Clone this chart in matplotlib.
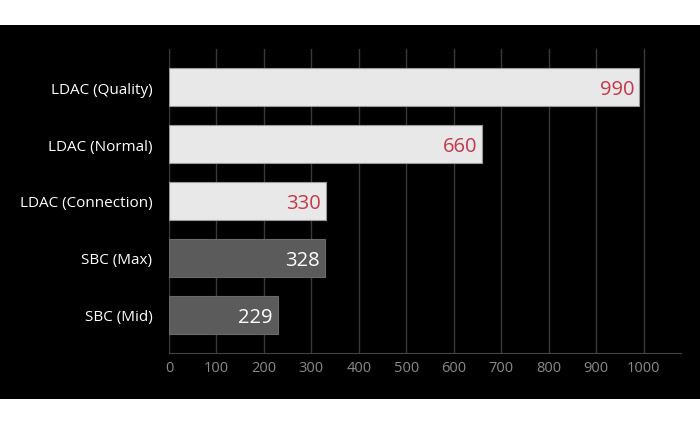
import matplotlib.pyplot as plt
from matplotlib.patches import Rectangle

categories = ['LDAC (Quality)', 'LDAC (Normal)', 'LDAC (Connection)', 'SBC (Max)', 'SBC (Mid)']
values = [990, 660, 330, 328, 229]
is_ldac = [True, True, True, False, False]
ticks = [0, 100, 200, 300, 400, 500, 600, 700, 800, 900, 1000]

plt.rcParams['font.family'] = ['Open Sans', 'DejaVu Sans']

fig = plt.figure(figsize=(7, 4.35), dpi=100)
fig.patch.set_facecolor('white')
# black panel behind the chart
fig.patches.append(Rectangle((0, 35 / 435), 1, 374 / 435, transform=fig.transFigure,
                             facecolor='black', edgecolor='none', zorder=-10))

ax = fig.add_axes([169 / 700, 81 / 435, 512 / 700, 304 / 435])
ax.set_facecolor('black')

pos = list(range(len(categories)))
colors = ['#e8e8e8' if l else '#5b5b5b' for l in is_ldac]
edges = ['#9a9a9a' if l else '#6a6a6a' for l in is_ldac]
ax.barh(pos, values, height=0.667, color=colors, edgecolor=edges, linewidth=0.8, zorder=3)

for p, v, l in zip(pos, values, is_ldac):
    ax.text(v - 10, p + 0.04, str(v), ha='right', va='center', fontsize=14.5,
            color='#c4384a' if l else 'white', zorder=4)

ax.set_xlim(0, 1079)
ax.set_ylim(4.67, -0.67)
ax.set_xticks(ticks)
ax.set_yticks(pos)
ax.set_yticklabels(categories)
ax.xaxis.grid(True, color='#3a3a3a', linewidth=1.0, zorder=1)
ax.set_axisbelow(True)
ax.tick_params(axis='x', colors='#8a8a8a', labelsize=10.5, length=0, pad=5)
ax.tick_params(axis='y', colors='white', labelsize=11, length=0, pad=12)
for s in ['top', 'right', 'left']:
    ax.spines[s].set_visible(False)
ax.spines['bottom'].set_color('#444444')

fig.savefig('out.png', dpi=100, facecolor='white')
